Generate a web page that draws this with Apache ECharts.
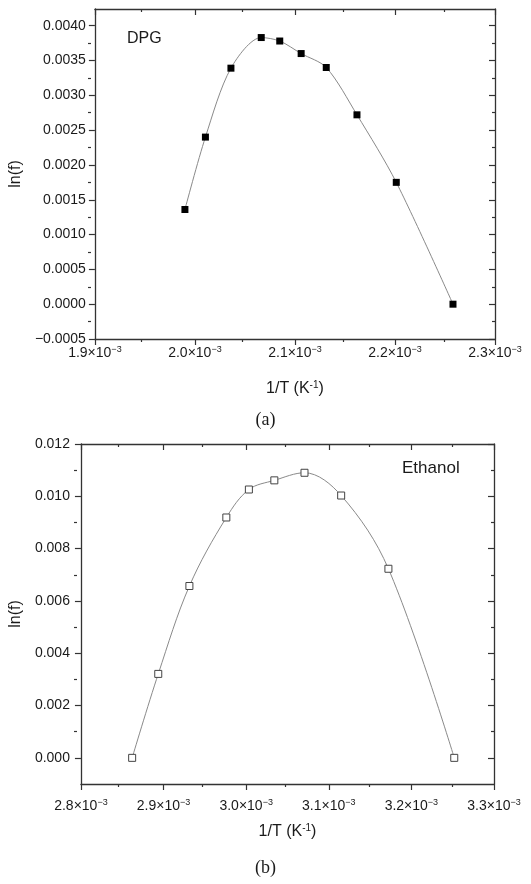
<!DOCTYPE html>
<html><head><meta charset="utf-8">
<script src="https://cdn.jsdelivr.net/npm/echarts@6/dist/echarts.min.js"></script>
<style>html,body{margin:0;padding:0;background:#fff}#c{width:531px;height:884px}</style>
</head><body><div id="c"></div>
<script>
// ---- data ----
const dpgX = [1.990e-3, 2.0105e-3, 2.036e-3, 2.0663e-3, 2.0848e-3, 2.1062e-3, 2.1313e-3, 2.162e-3, 2.2013e-3, 2.258e-3];
const dpgY = [0.00136, 0.00240, 0.00339, 0.00383, 0.00378, 0.00360, 0.00340, 0.00272, 0.00175, 0.0];
const ethX = [2.862e-3, 2.8936e-3, 2.9313e-3, 2.976e-3, 3.0033e-3, 3.0341e-3, 3.0706e-3, 3.115e-3, 3.1722e-3, 3.2519e-3];
const ethY = [0.0, 0.00321, 0.00657, 0.00919, 0.01026, 0.01061, 0.01090, 0.01003, 0.00723, 0.0];

// ---- tick values ----
const dpgXMajor = [1.9e-3, 2.0e-3, 2.1e-3, 2.2e-3, 2.3e-3];
const dpgXMinor = [1.95e-3, 2.05e-3, 2.15e-3, 2.25e-3];
const dpgYMajor = [-0.0005, 0.0, 0.0005, 0.0010, 0.0015, 0.0020, 0.0025, 0.0030, 0.0035, 0.0040];
const dpgYMinor = [-0.00025, 0.00025, 0.00075, 0.00125, 0.00175, 0.00225, 0.00275, 0.00325, 0.00375];
const ethXMajor = [2.8e-3, 2.9e-3, 3.0e-3, 3.1e-3, 3.2e-3, 3.3e-3];
const ethXMinor = [2.85e-3, 2.95e-3, 3.05e-3, 3.15e-3, 3.25e-3];
const ethYMajor = [0.0, 0.002, 0.004, 0.006, 0.008, 0.010, 0.012];
const ethYMinor = [0.001, 0.003, 0.005, 0.007, 0.009, 0.011];

const dpgXRange = [1.9e-3, 2.3e-3];
const dpgYRange = [-0.0005, 0.00424];
const ethXRange = [2.8e-3, 3.3e-3];
const ethYRange = [-0.001, 0.012];

const FONT = '"Liberation Sans", Arial, Helvetica, sans-serif';
const AX = '#333';
const TXT = '#1a1a1a';

const richX = {
  b: {fontSize: 14, fontFamily: FONT, color: TXT},
  s: {fontSize: 9, fontFamily: FONT, color: TXT, padding: [0, 0, 7, 0]}
};
const richName = {
  n: {fontSize: 16, fontFamily: FONT, color: TXT},
  s: {fontSize: 10, fontFamily: FONT, color: TXT, padding: [0, 0, 8, 0]}
};

function xFmt(v) { return '{b|' + (v * 1000).toFixed(1) + '×10}{s|−3}'; }
function yFmt(dec) { return v => (v < 0 ? '−' : '') + Math.abs(v).toFixed(dec); }

function ax(grid, pos, range, ticks, len, inside, opts) {
  return Object.assign({
    type: 'value', gridIndex: grid, position: pos, min: range[0], max: range[1],
    axisLine: {show: false, onZero: false, lineStyle: {color: AX, width: 1.3}},
    axisTick: {show: true, inside: inside, length: len, customValues: ticks, lineStyle: {color: AX, width: 1.2}},
    axisLabel: {show: false},
    splitLine: {show: false}
  }, opts || {});
}
const frameLine = {show: true, onZero: false, lineStyle: {color: AX, width: 1.3}};

const xAxis = [
  // chart (a)
  ax(0, 'bottom', dpgXRange, dpgXMajor, 6, false, {
    axisLine: frameLine,
    axisLabel: {show: true, customValues: dpgXMajor, margin: 6, formatter: xFmt, rich: richX},
    name: '{n|1/T (K}{s|-1}{n|)}', nameLocation: 'middle', nameGap: 41,
    nameTextStyle: {rich: richName}
  }),
  ax(0, 'top', dpgXRange, dpgXMajor, 6, true, {axisLine: frameLine}),
  ax(1, 'bottom', dpgXRange, dpgXMinor, 3, false),
  ax(1, 'top', dpgXRange, dpgXMinor, 3, true),
  // chart (b)
  ax(2, 'bottom', ethXRange, ethXMajor, 6, false, {
    axisLine: frameLine,
    axisLabel: {show: true, customValues: ethXMajor, margin: 14, formatter: xFmt, rich: richX},
    name: '{n|1/T (K}{s|-1}{n|)}', nameLocation: 'middle', nameGap: 39,
    nameTextStyle: {rich: richName}
  }),
  ax(2, 'top', ethXRange, ethXMajor, 6, true, {axisLine: frameLine}),
  ax(3, 'bottom', ethXRange, ethXMinor, 3, false),
  ax(3, 'top', ethXRange, ethXMinor, 3, true)
];

const yAxis = [
  ax(0, 'left', dpgYRange, dpgYMajor, 6, false, {
    axisLine: frameLine,
    axisLabel: {show: true, customValues: dpgYMajor, margin: 9, formatter: yFmt(4), fontSize: 14, fontFamily: FONT, color: TXT},
    name: 'ln(f)', nameLocation: 'middle', nameGap: 60,
    nameTextStyle: {fontSize: 16, fontFamily: FONT, color: TXT}
  }),
  ax(0, 'right', dpgYRange, dpgYMajor, 6, true, {axisLine: frameLine}),
  ax(1, 'left', dpgYRange, dpgYMinor, 3, false),
  ax(1, 'right', dpgYRange, dpgYMinor, 3, true),
  ax(2, 'left', ethYRange, ethYMajor, 6, false, {
    axisLine: frameLine,
    axisLabel: {show: true, customValues: ethYMajor, margin: 11, formatter: yFmt(3), fontSize: 14, fontFamily: FONT, color: TXT},
    name: 'ln(f)', nameLocation: 'middle', nameGap: 47,
    nameTextStyle: {fontSize: 16, fontFamily: FONT, color: TXT}
  }),
  ax(2, 'right', ethYRange, ethYMajor, 6, true, {axisLine: frameLine}),
  ax(3, 'left', ethYRange, ethYMinor, 3, false),
  ax(3, 'right', ethYRange, ethYMinor, 3, true)
];

const gridA = {left: 91, top: 9, width: 404, height: 330};
const gridB = {left: 77, top: 444, width: 417, height: 340};

const option = {
  animation: false,
  backgroundColor: '#fff',
  grid: [gridA, Object.assign({}, gridA), gridB, Object.assign({}, gridB)],
  xAxis: xAxis,
  yAxis: yAxis,
  title: [
    {text: 'DPG', left: 127, top: 31, textStyle: {fontSize: 16, fontWeight: 'normal', fontFamily: FONT, color: TXT}, padding: 0},
    {text: 'Ethanol', left: 402, top: 460, textStyle: {fontSize: 17, fontWeight: 'normal', fontFamily: FONT, color: TXT}, padding: 0},
    {text: '(a)', left: 'center', top: 411, textStyle: {fontSize: 18, fontWeight: 'normal', fontFamily: '"Liberation Serif", "Times New Roman", serif', color: TXT}, padding: 0},
    {text: '(b)', left: 'center', top: 859, textStyle: {fontSize: 18, fontWeight: 'normal', fontFamily: '"Liberation Serif", "Times New Roman", serif', color: TXT}, padding: 0}
  ],
  series: [
    {
      type: 'line', xAxisIndex: 0, yAxisIndex: 0, smooth: 0.3,
      data: dpgX.map((x, i) => [x, dpgY[i]]),
      symbol: 'rect', symbolSize: 7,
      itemStyle: {color: '#000'},
      lineStyle: {color: '#8a8a8a', width: 1}
    },
    {
      type: 'line', xAxisIndex: 4, yAxisIndex: 4, smooth: 0.35,
      data: ethX.map((x, i) => [x, ethY[i]]),
      symbol: 'rect', symbolSize: 7,
      itemStyle: {color: '#fff', borderColor: '#444', borderWidth: 1},
      lineStyle: {color: '#8a8a8a', width: 1}
    }
  ]
};

const chart = echarts.init(document.getElementById('c'), null, {renderer: 'canvas'});
chart.setOption(option);
</script></body></html>
